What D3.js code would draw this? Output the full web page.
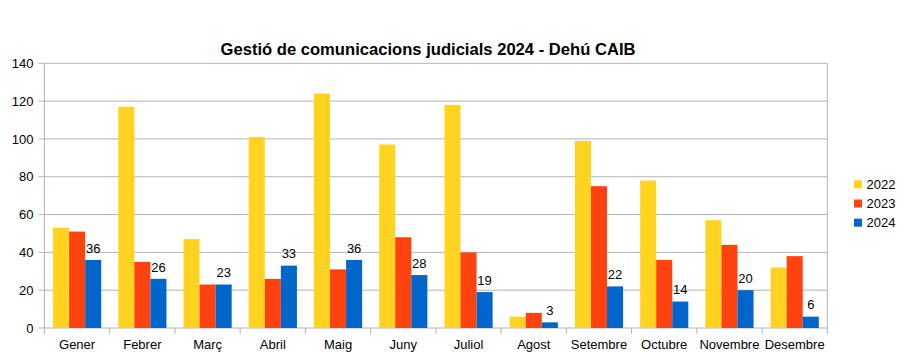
<!DOCTYPE html>
<html><head><meta charset="utf-8">
<script src="https://cdn.jsdelivr.net/npm/d3@7"></script>
<style>body{margin:0;background:#fff}svg{display:block;font-family:"Liberation Sans",Arial,sans-serif}</style>
</head><body>
<svg id="c" width="907" height="353"></svg>
<script>
const months = ["Gener","Febrer","Març","Abril","Maig","Juny","Juliol","Agost","Setembre","Octubre","Novembre","Desembre"];
const seriesNames = ["2022","2023","2024"];
const v2022 = [53,117,47,101,124,97,118,6,99,78,57,32];
const v2023 = [51,35,23,26,31,48,40,8,75,36,44,38];
const v2024 = [36,26,23,33,36,28,19,3,22,14,20,6];
const yTicks = [0,20,40,60,80,100,120,140];
const colors = ["#ffd320","#ff420e","#0066cc"];
const title = "Gestió de comunicacions judicials 2024 - Dehú CAIB";

const series = [v2022, v2023, v2024];
const svg = d3.select("#c");
const L = 44.5, R = 827.3, T = 63.3, B = 328;
const x = d3.scaleBand().domain(months).range([L, R]).paddingInner(0).paddingOuter(0);
const inner = d3.scaleBand().domain(seriesNames).range([0, x.bandwidth()]).paddingInner(0).paddingOuter(0.53);
const y = d3.scaleLinear().domain([0,140]).range([B, T]);

// grid
const g = svg.append("g");
g.selectAll("line.grid").data(yTicks).join("line")
  .attr("x1", L-6).attr("x2", R).attr("y1", d=>y(d)).attr("y2", d=>y(d))
  .attr("stroke", "#b3b3b3").attr("stroke-width", 1);
g.append("line").attr("x1", L).attr("x2", L).attr("y1", T).attr("y2", B).attr("stroke","#b3b3b3");
g.append("line").attr("x1", R).attr("x2", R).attr("y1", T).attr("y2", B).attr("stroke","#b3b3b3");
// x ticks at boundaries
const bounds = months.map(m => x(m)).concat([R]);
g.selectAll("line.xt").data(bounds).join("line")
  .attr("x1", d=>d).attr("x2", d=>d).attr("y1", B).attr("y2", B+6).attr("stroke","#b3b3b3");

// y labels
svg.append("g").selectAll("text").data(yTicks).join("text")
  .attr("x", 33.5).attr("y", d=>y(d)+4.6).attr("text-anchor","end")
  .attr("font-size", 13).attr("fill","#000").text(d=>d);

// bars
series.forEach((vals, si) => {
  svg.append("g").selectAll("rect").data(vals).join("rect")
    .attr("x", (d,i)=>x(months[i]) + inner(seriesNames[si]))
    .attr("width", inner.bandwidth())
    .attr("y", d=>y(d)).attr("height", d=>B - y(d))
    .attr("fill", colors[si]);
});

// data labels for 2024
svg.append("g").selectAll("text").data(v2024).join("text")
  .attr("x", (d,i)=>x(months[i]) + inner("2024") + inner.bandwidth()/2)
  .attr("y", d=>y(d)-7.3).attr("text-anchor","middle")
  .attr("font-size", 13).attr("fill","#000").text(d=>d);

// x labels
svg.append("g").selectAll("text").data(months).join("text")
  .attr("x", d=>x(d)+x.bandwidth()/2).attr("y", 348.5).attr("text-anchor","middle")
  .attr("font-size", 13).attr("fill","#000").text(d=>d);

// title
svg.append("text").attr("x", 428).attr("y", 55).attr("text-anchor","middle")
  .attr("font-size", 16.6).attr("font-weight","bold").attr("fill","#000").text(title);

// legend
const leg = svg.append("g");
seriesNames.forEach((n, i) => {
  const cy = 184.3 + i*19.2;
  leg.append("rect").attr("x", 854).attr("y", cy-4).attr("width", 8).attr("height", 8).attr("fill", colors[i]);
  leg.append("text").attr("x", 866.5).attr("y", cy+4.7).attr("font-size", 13).attr("fill","#000").text(n);
});
</script>
</body></html>
